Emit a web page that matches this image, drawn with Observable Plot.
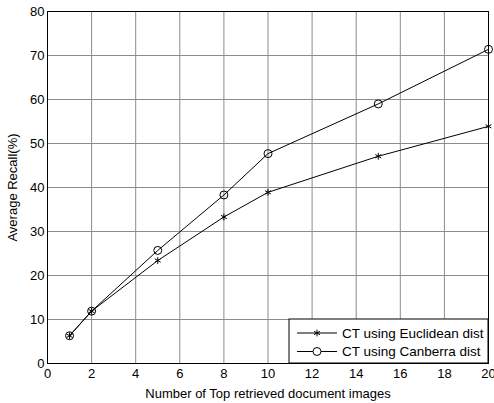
<!DOCTYPE html>
<html><head><meta charset="utf-8">
<script src="https://cdn.jsdelivr.net/npm/d3@7"></script>
<script src="https://cdn.jsdelivr.net/npm/@observablehq/plot@0.6"></script>
<style>body{margin:0;background:#fff;} svg{font-family:"Liberation Sans",Arial,sans-serif;}</style>
</head><body><div id="chart"></div>
<script>
const topN = [1, 2, 5, 8, 10, 15, 20];
const euclidean = [6.3, 11.9, 23.4, 33.3, 38.9, 47.1, 53.9];
const canberra = [6.3, 11.9, 25.7, 38.3, 47.7, 59.0, 71.4];
const seriesNames = ["CT using Euclidean dist", "CT using Canberra dist"];
const xTicks = [0, 2, 4, 6, 8, 10, 12, 14, 16, 18, 20];
const yTicks = [0, 10, 20, 30, 40, 50, 60, 70, 80];

const data = [];
topN.forEach((n, i) => {
  data.push({n, v: euclidean[i], s: seriesNames[0]});
  data.push({n, v: canberra[i], s: seriesNames[1]});
});
const eu = data.filter(d => d.s === seriesNames[0]);
const ca = data.filter(d => d.s === seriesNames[1]);

const W = 494, H = 403, mL = 47, mR = 6, mT = 11, mB = 40;
const plot = Plot.plot({
  width: W, height: H,
  marginLeft: mL, marginRight: mR, marginTop: mT, marginBottom: mB,
  style: {fontFamily: "Liberation Sans, Arial, sans-serif", fontSize: "13px", color: "#000", background: "#fff"},
  x: {domain: [0, 20], ticks: xTicks, label: "Number of Top retrieved document images"},
  y: {domain: [0, 80], ticks: yTicks, label: "Average Recall(%)"},
  marks: [
    Plot.ruleX(xTicks, {stroke: "#8c8c8c", strokeWidth: 1}),
    Plot.ruleY(yTicks, {stroke: "#8c8c8c", strokeWidth: 1}),
    Plot.axisX({ticks: xTicks, tickSize: 0, tickPadding: 5, fontSize: 13, label: "Number of Top retrieved document images", labelAnchor: "center", labelArrow: "none", labelOffset: 34}),
    Plot.axisY({ticks: yTicks, tickSize: 0, tickPadding: 3, fontSize: 13, label: "Average Recall(%)", labelAnchor: "center", labelArrow: "none", labelOffset: 40}),
    Plot.line(eu, {x: "n", y: "v", stroke: "#000", strokeWidth: 1}),
    Plot.line(ca, {x: "n", y: "v", stroke: "#000", strokeWidth: 1}),
    Plot.dot(eu, {x: "n", y: "v", symbol: "asterisk", r: 3.2, stroke: "#000", strokeWidth: 1}),
    Plot.dot(ca, {x: "n", y: "v", symbol: "circle", r: 4, stroke: "#000", fill: "none", strokeWidth: 1}),
    Plot.frame({stroke: "#000", strokeWidth: 1})
  ]
});
document.getElementById("chart").appendChild(plot);

// legend inside bottom-right of the plot area
const svg = d3.select(plot);
const xs = plot.scale("x"), ys = plot.scale("y");
const right = xs.apply(20), bottom = ys.apply(0);
const lw = 199, lh = 44;
const g = svg.append("g").attr("transform", `translate(${right - lw},${bottom - lh})`)
  .attr("text-anchor", "start");
g.append("rect").attr("x", 0).attr("y", 0).attr("width", lw).attr("height", lh)
  .attr("fill", "#fff").attr("stroke", "#000").attr("stroke-width", 1);
const sym = [d3.symbolAsterisk, d3.symbolCircle];
seriesNames.forEach((name, i) => {
  const yy = 14 + i * 18.5;
  g.append("line").attr("x1", 8).attr("x2", 48).attr("y1", yy).attr("y2", yy).attr("stroke", "#000");
  g.append("path").attr("d", d3.symbol(sym[i], i === 0 ? 32 : 50)()).attr("transform", `translate(28,${yy})`)
    .attr("fill", i === 0 ? "none" : "#fff").attr("stroke", "#000");
  g.append("text").attr("x", 53).attr("y", yy).attr("dy", "0.35em").attr("text-anchor", "start")
    .attr("font-size", 13.5).text(name);
});
</script></body></html>
